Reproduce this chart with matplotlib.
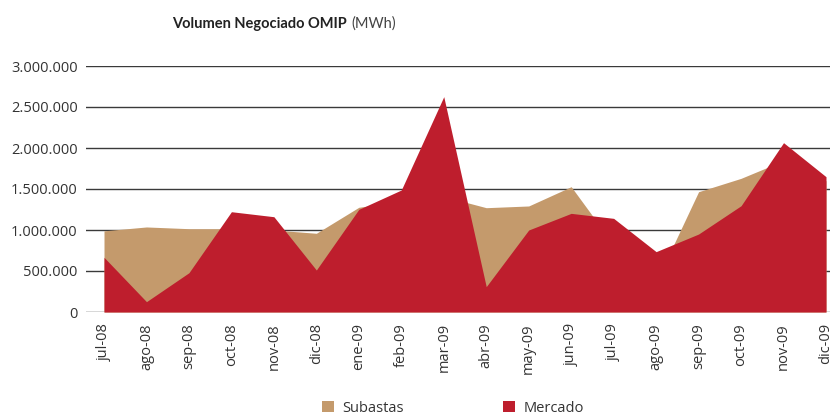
import numpy as np
import matplotlib
matplotlib.use('Agg')
import matplotlib.pyplot as plt
from matplotlib.ticker import FuncFormatter
from matplotlib.patches import Patch

plt.rcParams['font.family'] = ['Open Sans', 'DejaVu Sans']

#months and traded volumes (MWh)
meses = ['jul-08', 'ago-08', 'sep-08', 'oct-08', 'nov-08', 'dic-08',
         'ene-09', 'feb-09', 'mar-09', 'abr-09', 'may-09', 'jun-09',
         'jul-09', 'ago-09', 'sep-09', 'oct-09', 'nov-09', 'dic-09']
subastas = [990000, 1037000, 1016000, 1016000, 1000000, 960000,
            1277000, 1350000, 1409000, 1272000, 1293000, 1528000,
            821000, 366000, 1467000, 1630000, 1845000, 1600000]
mercado = [667000, 126000, 479000, 1223000, 1162000, 512000,
           1252000, 1488000, 2626000, 309000, 1000000, 1203000,
           1142000, 736000, 951000, 1296000, 2065000, 1650000]

col_sub = '#C49A6C'
col_mer = '#BE1E2D'

x = np.arange(len(meses))

fig = plt.figure(figsize=(8.32, 4.17), dpi=100)
ax = fig.add_axes([86/832, 1-312/417, (830-86)/832, (312-66)/417])

ax.fill_between(x, 0, subastas, color=col_sub, lw=0, zorder=2)
ax.fill_between(x, 0, mercado, color=col_mer, lw=0, zorder=3)

#grid lines
for v in np.arange(0, 3000001, 500000):
    ax.axhline(v, color='#3a3a3a', lw=1, zorder=1)

ax.set_xlim(-18/42.47, 17 + 4/42.47)
ax.set_ylim(0, 3000000)
ax.set_yticks(np.arange(0, 3000001, 500000))
ax.yaxis.set_major_formatter(FuncFormatter(lambda v, p: '{:,.0f}'.format(v).replace(',', '.')))
ax.set_xticks(x)
ax.set_xticklabels(meses, rotation=90)
ax.tick_params(axis='both', length=0, labelsize=10.5, colors='#333333')
ax.tick_params(axis='y', pad=6)
ax.tick_params(axis='x', pad=8)
for s in ax.spines.values():
    s.set_visible(False)

#title with bold and normal part, centred as a whole at x=284px
t1 = fig.text(0, 1-28/417, 'Volumen Negociado OMIP', ha='left', va='baseline',
              fontsize=10.5, fontweight='bold', color='#222222', family=['Lato', 'DejaVu Sans'])
t2 = fig.text(0, 1-28/417, '(MWh)', ha='left', va='baseline',
              fontsize=10.5, color='#444444', family=['Lato', 'DejaVu Sans'])
r = fig.canvas.get_renderer()
w1 = t1.get_window_extent(r).width
w2 = t2.get_window_extent(r).width
x0 = 284 - (w1 + 5 + w2)/2
t1.set_x(x0/832)
t2.set_x((x0 + w1 + 5)/832)

handles = [Patch(facecolor=col_sub, label='Subastas'),
           Patch(facecolor=col_mer, label='Mercado')]
fig.legend(handles=handles, loc='center', bbox_to_anchor=(453/832, 1-408/417), ncol=2,
           frameon=False, fontsize=10.5, handlelength=0.8, handleheight=0.8,
           handletextpad=0.6, columnspacing=6.8, labelcolor='#333333')

plt.savefig('out.png', dpi=100)
